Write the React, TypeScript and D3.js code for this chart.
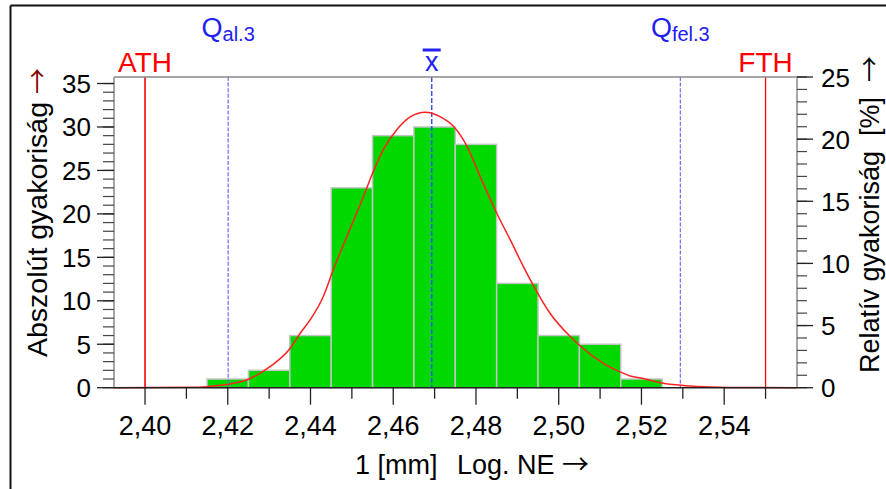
import React from "react";
import * as d3 from "d3";

// ---- data ----
const binStarts = [2.415, 2.425, 2.435, 2.445, 2.455, 2.465, 2.475, 2.485, 2.495, 2.505, 2.515];
const counts = [1, 2, 6, 23, 29, 30, 28, 12, 6, 5, 1];
const binWidth = 0.01;
const totalN = 143;

const xTickValues = [2.40, 2.42, 2.44, 2.46, 2.48, 2.50, 2.52, 2.54];
const xTickLabels = ["2,40", "2,42", "2,44", "2,46", "2,48", "2,50", "2,52", "2,54"];
const xMinorTicks = [2.41, 2.43, 2.45, 2.47, 2.49, 2.51, 2.53, 2.55];
const leftTicks = [0, 5, 10, 15, 20, 25, 30, 35];
const rightTicks = [0, 5, 10, 15, 20, 25];

// fitted density curve (in absolute counts)
const curveX = [2.3925, 2.4109, 2.4149, 2.4201, 2.425, 2.4302, 2.4351, 2.4375, 2.4399, 2.4431, 2.4455,
  2.4488, 2.4528, 2.4552, 2.4576, 2.4609, 2.4641, 2.4677, 2.4713, 2.4745, 2.4778, 2.481, 2.485, 2.4883,
  2.4915, 2.4947, 2.4979, 2.5028, 2.5052, 2.5108, 2.5153, 2.5173, 2.5202, 2.5253, 2.5318, 2.539, 2.5487, 2.5576];
const curveY = [0, 0.05, 0.12, 0.39, 0.97, 2.42, 4.54, 6.27, 7.8, 10.5, 13.56,
  17.4, 22.0, 24.9, 27.4, 29.7, 31.15, 31.7, 31.2, 30.1, 27.8, 24.3, 20.1, 17.0,
  13.9, 11.06, 8.57, 5.88, 4.8, 2.81, 1.73, 1.35, 1.08, 0.5, 0.2, 0.06, 0.01, 0];

const limitATH = 2.40;
const limitFTH = 2.55;
const qLower = 2.4201;
const qUpper = 2.5294;
const meanX = 2.4693;

const FONT = "'Liberation Sans', Arial, Helvetica, sans-serif";
const ARROW_FONT = "'Noto Sans CJK JP', 'DejaVu Sans', sans-serif";

export default function App() {
  const left = 114, right = 797, top = 77, bottom = 387.7;
  const x = d3.scaleLinear().domain([2.3925, 2.5576]).range([left, right]);
  const yL = d3.scaleLinear().domain([0, totalN * 0.25]).range([bottom, top]);
  const yR = d3.scaleLinear().domain([0, 25]).range([bottom, top]);

  const line = d3.line<number>()
    .x((_, i) => x(curveX[i]))
    .y((d) => yL(d))
    .curve(d3.curveMonotoneX);

  const leftMinor = d3.range(0, 36);
  const rightMinor = d3.range(0, 26);

  return (
    <svg width={886} height={489} style={{ position: "absolute", left: 0, top: 0, background: "#fff" }}
      fontFamily={FONT}>
      <rect x={0} y={0} width={886} height={489} fill="#fff" />
      {/* outer border */}
      <line x1={10.5} y1={5.5} x2={890} y2={5.5} stroke="#111" strokeWidth={2} />
      <line x1={10.5} y1={5.5} x2={10.5} y2={495} stroke="#111" strokeWidth={2} />

      {/* bars */}
      {counts.map((c, i) => (
        <rect key={i} x={x(binStarts[i])} y={yL(c)} width={x(binStarts[i] + binWidth) - x(binStarts[i])}
          height={yL(0) - yL(c)} fill="#00d800" stroke="#c4c4c4" strokeWidth={1.5} />
      ))}

      {/* spec limits */}
      <line x1={x(limitATH)} x2={x(limitATH)} y1={top} y2={bottom} stroke="#ff0000" strokeWidth={1.6} />
      <line x1={x(limitFTH)} x2={x(limitFTH)} y1={top} y2={bottom} stroke="#ff0000" strokeWidth={1.3} />
      {/* quantile lines */}
      <line x1={x(qLower)} x2={x(qLower)} y1={top} y2={bottom} stroke="#6c6cff" strokeWidth={1.2} strokeDasharray="4,1.6" />
      <line x1={x(qUpper)} x2={x(qUpper)} y1={top} y2={bottom} stroke="#6c6cff" strokeWidth={1.2} strokeDasharray="4,1.6" />
      {/* mean */}
      <line x1={x(meanX)} x2={x(meanX)} y1={top} y2={bottom} stroke="#3a50f0" strokeWidth={1.5} strokeDasharray="5,2" />

      {/* density curve */}
      <path d={line(curveY) || ""} fill="none" stroke="#ff2020" strokeWidth={1.5} />

      {/* frame / axes */}
      <line x1={left} x2={right} y1={top} y2={top} stroke="#888" strokeWidth={1.5} />
      <line x1={left} x2={left} y1={top} y2={bottom} stroke="#888" strokeWidth={1.5} />
      <line x1={right} x2={right} y1={top} y2={bottom} stroke="#888" strokeWidth={1.5} />
      <line x1={left} x2={right} y1={bottom} y2={bottom} stroke="#222" strokeWidth={1.5} />

      {/* x ticks */}
      {xMinorTicks.map((t) => (
        <line key={"xm" + t} x1={x(t)} x2={x(t)} y1={bottom} y2={bottom + 11} stroke="#222" strokeWidth={1.3} />
      ))}
      {xTickValues.map((t, i) => (
        <g key={"xt" + t}>
          <line x1={x(t)} x2={x(t)} y1={bottom} y2={bottom + 17} stroke="#222" strokeWidth={1.3} />
          <text x={x(t)} y={435} textAnchor="middle" fontSize={27} fill="#000">{xTickLabels[i]}</text>
        </g>
      ))}

      {/* left ticks */}
      {leftMinor.map((t) => (
        <line key={"lm" + t} x1={left - 11} x2={left} y1={yL(t)} y2={yL(t)} stroke="#444" strokeWidth={1.2} />
      ))}
      {leftTicks.map((t) => (
        <g key={"lt" + t}>
          <line x1={left - 17} x2={left} y1={yL(t)} y2={yL(t)} stroke="#222" strokeWidth={1.3} />
          <text x={91} y={yL(t) + 9.5} textAnchor="end" fontSize={26} fill="#000">{t}</text>
        </g>
      ))}

      {/* right ticks */}
      {rightMinor.map((t) => (
        <line key={"rm" + t} x1={right} x2={right + 10} y1={yR(t)} y2={yR(t)} stroke="#444" strokeWidth={1.2} />
      ))}
      {rightTicks.map((t) => (
        <g key={"rt" + t}>
          <line x1={right} x2={right + 16} y1={yR(t)} y2={yR(t)} stroke="#222" strokeWidth={1.3} />
          <text x={821} y={yR(t) + 9.5} textAnchor="start" fontSize={26} fill="#000">{t}</text>
        </g>
      ))}

      {/* marker labels */}
      <text x={x(limitATH)} y={71.5} textAnchor="middle" fontSize={28} fill="#ff0000">ATH</text>
      <text x={x(limitFTH)} y={71.5} textAnchor="middle" fontSize={28} fill="#ff0000">FTH</text>
      <text x={x(qLower)} y={37} textAnchor="middle" fill="#2020f0">
        <tspan fontSize={27}>Q</tspan>
        <tspan fontSize={20} dy={4}>al.3</tspan>
      </text>
      <text x={x(qUpper)} y={37} textAnchor="middle" fill="#2020f0">
        <tspan fontSize={27}>Q</tspan>
        <tspan fontSize={20} dy={4}>fel.3</tspan>
      </text>
      <text x={x(meanX)} y={70.5} textAnchor="middle" fontSize={27} fill="#2020f0">x</text>
      <line x1={x(meanX) - 9} x2={x(meanX) + 9} y1={50} y2={50} stroke="#2020f0" strokeWidth={3} />

      {/* axis titles */}
      <text x={355} y={473.5} fontSize={27} fill="#000">1 [mm]</text>
      <text x={457} y={473.5} fontSize={27} fill="#000" style={{ whiteSpace: "pre" }}>
        {"Log. NE "}<tspan fontFamily={ARROW_FONT} fontSize={27}>→</tspan>
      </text>
      <text transform="translate(46.5,357) rotate(-90)" fontSize={28.5} fill="#000" style={{ whiteSpace: "pre" }}>
        {"Abszolút gyakoriság "}<tspan fill="#800000" fontFamily={ARROW_FONT} fontSize={26}>→</tspan>
      </text>
      <text transform="translate(879,373) rotate(-90)" fontSize={27} fill="#000" style={{ whiteSpace: "pre" }}>
        {"Relatív gyakoriság  [%]  "}<tspan fontFamily={ARROW_FONT} fontSize={26}>→</tspan>
      </text>
    </svg>
  );
}
